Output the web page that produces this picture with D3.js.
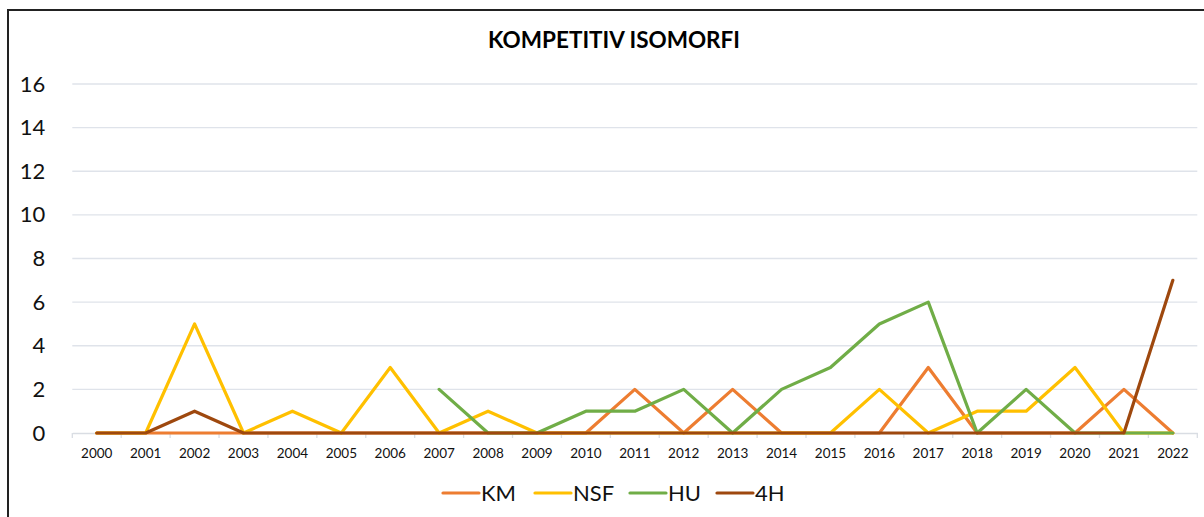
<!DOCTYPE html>
<html>
<head>
<meta charset="utf-8">
<script src="https://cdn.jsdelivr.net/npm/d3@7"></script>
<style>
  html, body { margin: 0; padding: 0; background: #fff; }
  svg { display: block; font-family: Lato, "Open Sans", sans-serif; }
</style>
</head>
<body>
<svg id="chart" width="1204" height="517"></svg>
<script>
// values
const years = d3.range(2000, 2023).map(String);
const yTicks = [0, 2, 4, 6, 8, 10, 12, 14, 16];

const km  = [0, 0, 0, 0, 0, 0, 0, 0, 0, 0, 0, 2, 0, 2, 0, 0, 0, 3, 0, 0, 0, 2, 0];
const nsf = [0, 0, 5, 0, 1, 0, 3, 0, 1, 0, 0, 0, 0, 0, 0, 0, 2, 0, 1, 1, 3, 0, 0];
const hu  = [null, null, null, null, null, null, null, 2, 0, 0, 1, 1, 2, 0, 2, 3, 5, 6, 0, 2, 0, 0, 0];
const h4  = [0, 0, 1, 0, 0, 0, 0, 0, 0, 0, 0, 0, 0, 0, 0, 0, 0, 0, 0, 0, 0, 0, 7];

const series = [
  { name: "KM",  values: km,  color: "#ED7D31" },
  { name: "NSF", values: nsf, color: "#FFC000" },
  { name: "HU",  values: hu,  color: "#70AD47" },
  { name: "4H",  values: h4,  color: "#9E480E" },
];

const svg = d3.select("#chart");
const W = 1204, H = 517;

// chart frame (right and bottom edges run off the picture)
svg.append("path")
  .attr("d", `M8,${H} L8,10 L${W},10`)
  .attr("fill", "none")
  .attr("stroke", "#222")
  .attr("stroke-width", 2);

svg.append("text")
  .attr("x", 614).attr("y", 48)
  .attr("text-anchor", "middle")
  .attr("font-size", 22.5).attr("font-weight", 700)
  .attr("fill", "#000")
  .text("KOMPETITIV ISOMORFI");

const plot = { left: 72.3, right: 1197.3, top: 84, bottom: 433 };

const x = d3.scaleBand().domain(years).range([plot.left, plot.right]);
const y = d3.scaleLinear().domain([0, 16]).range([plot.bottom, plot.top]);

// gridlines
svg.append("g")
  .selectAll("line")
  .data(yTicks.filter(d => d > 0))
  .join("line")
  .attr("x1", plot.left).attr("x2", plot.right)
  .attr("y1", d => y(d)).attr("y2", d => y(d))
  .attr("stroke", "#dfe3ea").attr("stroke-width", 1.3);

// y axis labels
const yAxis = svg.append("g")
  .attr("transform", `translate(${plot.left},0)`)
  .call(d3.axisLeft(y).tickValues(yTicks).tickSize(0).tickPadding(27));
yAxis.select(".domain").remove();
yAxis.selectAll("text")
  .attr("font-size", 22).attr("fill", "#111")
  .attr("font-family", "Lato, 'Open Sans', sans-serif");

// x axis: baseline, boundary ticks, labels
const xAxis = svg.append("g")
  .attr("transform", `translate(0,${plot.bottom})`)
  .call(d3.axisBottom(x).tickSize(0).tickPadding(15));
xAxis.select(".domain").attr("stroke", "#d9dde3").attr("stroke-width", 1.3);
xAxis.selectAll("text")
  .attr("font-size", 13.5).attr("fill", "#111")
  .attr("font-family", "Lato, 'Open Sans', sans-serif");
xAxis.selectAll(".sep")
  .data(d3.range(years.length + 1))
  .join("line")
  .attr("class", "sep")
  .attr("x1", i => plot.left + i * x.step())
  .attr("x2", i => plot.left + i * x.step())
  .attr("y1", 0).attr("y2", 5)
  .attr("stroke", "#d9dde3").attr("stroke-width", 1.3);

// lines
const line = d3.line()
  .defined(d => d.v !== null)
  .x(d => x(d.year) + x.bandwidth() / 2)
  .y(d => y(d.v));

svg.append("g")
  .selectAll("path")
  .data(series)
  .join("path")
  .attr("d", s => line(s.values.map((v, i) => ({ year: years[i], v }))))
  .attr("fill", "none")
  .attr("stroke", s => s.color)
  .attr("stroke-width", 3.2)
  .attr("stroke-linejoin", "round")
  .attr("stroke-linecap", "round");

// legend
const legendX = [443, 535, 630, 717];
const legend = svg.append("g")
  .selectAll("g")
  .data(series)
  .join("g")
  .attr("transform", (s, i) => `translate(${legendX[i]},493)`);
legend.append("line")
  .attr("x1", 0).attr("x2", 36)
  .attr("stroke", s => s.color)
  .attr("stroke-width", 3.2)
  .attr("stroke-linecap", "round");
legend.append("text")
  .attr("x", 38).attr("y", 8)
  .attr("font-size", 22).attr("fill", "#111")
  .text(s => s.name);
</script>
</body>
</html>
